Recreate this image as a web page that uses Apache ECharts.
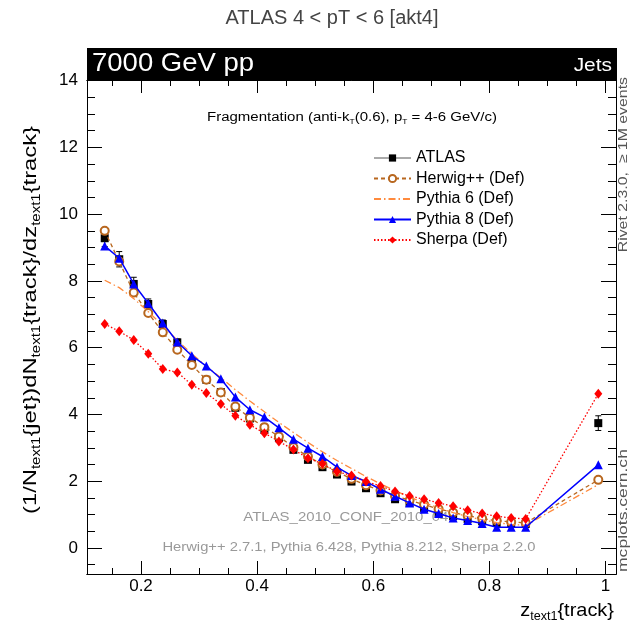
<!DOCTYPE html>
<html>
<head>
<meta charset="utf-8">
<script src="https://cdn.jsdelivr.net/npm/echarts@6/dist/echarts.min.js"></script>
<style>
  html, body { margin: 0; padding: 0; background: #fff; }
  #main { width: 631px; height: 626px; }
</style>
</head>
<body>
<div id="main"></div>
<script>
// bin centres in z
var zBins = [0.1375, 0.1625, 0.1875, 0.2125, 0.2375, 0.2625, 0.2875, 0.3125, 0.3375, 0.3625,
  0.3875, 0.4125, 0.4375, 0.4625, 0.4875, 0.5125, 0.5375, 0.5625, 0.5875, 0.6125,
  0.6375, 0.6625, 0.6875, 0.7125, 0.7375, 0.7625, 0.7875, 0.8125, 0.8375, 0.8625, 0.9875];

var atlas = [9.28, 8.65, 7.91, 7.31, 6.71, 6.16, 5.54, 5.04, 4.67, 4.20,
  3.88, 3.54, 3.29, 2.94, 2.64, 2.42, 2.20, 1.99, 1.79, 1.64,
  1.46, 1.35, 1.20, 1.05, 0.95, 0.87, 0.80, 0.75, 0.72, 0.72, 3.74];
var atlasErr = [0.25, 0.23, 0.20, 0.15, 0.12, 0.10, 0.10, 0.08, 0.08, 0.07,
  0.07, 0.06, 0.06, 0.05, 0.05, 0.05, 0.05, 0.04, 0.04, 0.04,
  0.04, 0.04, 0.04, 0.04, 0.04, 0.04, 0.04, 0.04, 0.04, 0.04, 0.22];
var herwig = [9.50, 8.58, 7.65, 7.04, 6.46, 5.94, 5.48, 5.04, 4.66, 4.24,
  3.90, 3.62, 3.34, 3.02, 2.74, 2.50, 2.28, 2.07, 1.88, 1.72,
  1.56, 1.43, 1.30, 1.17, 1.06, 0.97, 0.88, 0.82, 0.78, 0.75, 2.04];
var pythia6 = [8.02, 7.80, 7.47, 7.08, 6.66, 6.22, 5.82, 5.44, 5.10, 4.74,
  4.40, 4.08, 3.76, 3.46, 3.16, 2.88, 2.62, 2.38, 2.14, 1.92,
  1.72, 1.52, 1.36, 1.20, 1.06, 0.94, 0.84, 0.76, 0.70, 0.68, 1.90];
var pythia8 = [9.05, 8.68, 7.91, 7.33, 6.74, 6.17, 5.76, 5.45, 5.07, 4.52,
  4.14, 3.92, 3.60, 3.26, 2.99, 2.74, 2.42, 2.17, 1.99, 1.76,
  1.55, 1.35, 1.16, 1.03, 0.90, 0.82, 0.73, 0.62, 0.62, 0.62, 2.49];
var sherpa = [6.71, 6.49, 6.23, 5.82, 5.36, 5.26, 4.89, 4.64, 4.31, 3.96,
  3.69, 3.44, 3.19, 2.95, 2.69, 2.52, 2.29, 2.17, 1.99, 1.86,
  1.69, 1.56, 1.46, 1.35, 1.25, 1.13, 1.03, 0.95, 0.90, 0.87, 4.62];

var xMajor = [0.2, 0.4, 0.6, 0.8, 1.0];
var xMinor = [0.15, 0.25, 0.3, 0.35, 0.45, 0.5, 0.55, 0.65, 0.7, 0.75, 0.85, 0.9, 0.95];
var yMajor = [0, 2, 4, 6, 8, 10, 12, 14];
var yMinor = [-0.5, 0.5, 1, 1.5, 2.5, 3, 3.5, 4.5, 5, 5.5, 6.5, 7, 7.5, 8.5, 9, 9.5,
  10.5, 11, 11.5, 12.5, 13, 13.5];

var X_MIN = 0.107, X_MAX = 1.018, Y_MIN = -0.78, Y_MAX = 14.02;
var FONT = "Liberation Sans, Arial, sans-serif";

function pairs(ys) {
  return ys.map(function (v, i) { return [zBins[i], v]; });
}

function makeX(pos, ticks, len, withLabels) {
  return {
    type: "value", position: pos, min: X_MIN, max: X_MAX,
    axisLine: { show: true, onZero: false, lineStyle: { color: "#000", width: 1 } },
    axisTick: { show: true, inside: true, length: len, customValues: ticks,
      lineStyle: { color: "#000", width: 1 } },
    axisLabel: withLabels ? {
      show: true, customValues: ticks, margin: 4, color: "#000",
      fontSize: 17, fontFamily: FONT,
      formatter: function (v) { return v === 1 ? "1" : v.toFixed(1); }
    } : { show: false },
    splitLine: { show: false }
  };
}

function makeY(pos, ticks, len, withLabels) {
  return {
    type: "value", position: pos, min: Y_MIN, max: Y_MAX,
    axisLine: { show: true, onZero: false, lineStyle: { color: "#000", width: 1 } },
    axisTick: { show: true, inside: true, length: len, customValues: ticks,
      lineStyle: { color: "#000", width: 1 } },
    axisLabel: withLabels ? {
      show: true, customValues: ticks, margin: 9, color: "#000",
      fontSize: 17, fontFamily: FONT
    } : { show: false },
    splitLine: { show: false }
  };
}

var subStyle = function (size) {
  return { s: { fontSize: size, fontFamily: FONT, lineHeight: size + 1, verticalAlign: "bottom", fill: "#000" } };
};

var chart = echarts.init(document.getElementById("main"), null, { renderer: "canvas" });

var option = {
  backgroundColor: "#fff",
  animation: false,
  grid: { left: 87, right: 15, top: 80, bottom: 52, containLabel: false },
  xAxis: [
    makeX("bottom", xMajor, 13, true),
    makeX("bottom", xMinor, 6, false),
    makeX("top", xMajor, 13, false),
    makeX("top", xMinor, 6, false)
  ],
  yAxis: [
    makeY("left", yMajor, 15, true),
    makeY("left", yMinor, 8, false),
    makeY("right", yMajor, 15, false),
    makeY("right", yMinor, 8, false)
  ],
  legend: {
    orient: "vertical", left: 368, top: 145,
    itemWidth: 37, itemHeight: 9, itemGap: 4.5,
    textStyle: { fontSize: 16, fontFamily: FONT, color: "#000", lineHeight: 15 },
    data: [
      { name: "ATLAS", lineStyle: { width: 1, color: "#555", opacity: 1, type: "solid" } },
      "Herwig++ (Def)",
      { name: "Pythia 6 (Def)", itemStyle: { opacity: 0 } },
      "Pythia 8 (Def)", "Sherpa (Def)"
    ]
  },
  series: [
    {
      name: "ATLAS", type: "line", data: pairs(atlas), z: 3,
      symbol: "rect", symbolSize: 8, color: "#000",
      lineStyle: { width: 0, opacity: 0 }, itemStyle: { color: "#000" }
    },
    {
      name: "ATLAS", type: "custom", z: 3,
      data: atlas.map(function (v, i) { return [zBins[i], v, atlasErr[i]]; }),
      renderItem: function (params, api) {
        var x = api.value(0), y = api.value(1), e = api.value(2);
        var top = api.coord([x, y + e]), bot = api.coord([x, y - e]);
        var st = { stroke: "#000", lineWidth: 1 };
        return {
          type: "group", children: [
            { type: "line", shape: { x1: top[0], y1: top[1], x2: bot[0], y2: bot[1] }, style: st },
            { type: "line", shape: { x1: top[0] - 3, y1: top[1], x2: top[0] + 3, y2: top[1] }, style: st },
            { type: "line", shape: { x1: bot[0] - 3, y1: bot[1], x2: bot[0] + 3, y2: bot[1] }, style: st }
          ]
        };
      }
    },
    {
      name: "Herwig++ (Def)", type: "line", data: pairs(herwig), z: 4,
      symbol: "emptyCircle", symbolSize: 8, color: "#b8671f",
      itemStyle: { color: "#b8671f", borderWidth: 1.6 },
      lineStyle: { color: "#b8671f", width: 1.3, type: [4, 3] }
    },
    {
      name: "Pythia 6 (Def)", type: "line", data: pairs(pythia6), z: 5,
      symbol: "none", color: "#ff8a3d",
      lineStyle: { color: "#ff8a3d", width: 1.3, type: [7, 3, 1.5, 3] }
    },
    {
      name: "Pythia 8 (Def)", type: "line", data: pairs(pythia8), z: 6,
      symbol: "triangle", symbolSize: 9, color: "#0000ff",
      itemStyle: { color: "#0000ff" },
      lineStyle: { color: "#0000ff", width: 1.5, type: "solid" }
    },
    {
      name: "Sherpa (Def)", type: "line", data: pairs(sherpa), z: 7,
      symbol: "diamond", symbolSize: [8, 10], color: "#ff0000",
      itemStyle: { color: "#ff0000" },
      lineStyle: { color: "#ff0000", width: 1.3, type: [1.5, 2] }
    }
  ],
  graphic: [
    { type: "text", x: 332, y: 18, z: 10,
      style: { text: "ATLAS 4 < pT < 6 [akt4]", fill: "#444", fontSize: 20, fontFamily: FONT,
        align: "center", verticalAlign: "middle" } },
    { type: "rect", shape: { x: 87, y: 48, width: 530, height: 32 }, z: 10,
      style: { fill: "#000" } },
    { type: "text", x: 92, y: 64, z: 11, scaleX: 1.1,
      style: { text: "7000 GeV pp", fill: "#fff", fontSize: 25, fontFamily: FONT,
        align: "left", verticalAlign: "middle" } },
    { type: "text", x: 612, y: 66, z: 11, scaleX: 1.1,
      style: { text: "Jets", fill: "#fff", fontSize: 19, fontFamily: FONT,
        align: "right", verticalAlign: "middle" } },
    { type: "text", x: 352, y: 118, z: 10, scaleX: 1.2,
      style: { text: "Fragmentation (anti-k{s|T}(0.6), p{s|T} = 4-6 GeV/c)", fill: "#000",
        fontSize: 12.5, fontFamily: FONT, lineHeight: 16, align: "center", verticalAlign: "middle",
        rich: subStyle(7) } },
    { type: "text", x: 350, y: 517, z: 0, scaleX: 1.15,
      style: { text: "ATLAS_2010_CONF_2010_049", fill: "#999", fontSize: 13, fontFamily: FONT,
        align: "center", verticalAlign: "middle" } },
    { type: "text", x: 349, y: 548, z: 0, scaleX: 1.18,
      style: { text: "Herwig++ 2.7.1, Pythia 6.428, Pythia 8.212, Sherpa 2.2.0", fill: "#999",
        fontSize: 12.5, fontFamily: FONT, align: "center", verticalAlign: "middle" } },
    { type: "text", x: 623, y: 77, rotation: Math.PI / 2, z: 10, scaleX: 1.22,
      style: { text: "Rivet 2.3.0,  \u2265 1M events", fill: "#555", fontSize: 13, fontFamily: FONT,
        align: "right", verticalAlign: "middle" } },
    { type: "text", x: 623, y: 572, rotation: Math.PI / 2, z: 10, scaleX: 1.3,
      style: { text: "mcplots.cern.ch", fill: "#555", fontSize: 13.5, fontFamily: FONT,
        align: "left", verticalAlign: "middle" } },
    { type: "text", x: 31, y: 126, rotation: Math.PI / 2, z: 10, scaleX: 1.25,
      style: { text: "(1/N{s|text1}{jet})dN{s|text1}{track}/dz{s|text1}{track}", fill: "#000",
        fontSize: 19, fontFamily: FONT, lineHeight: 24, align: "right", verticalAlign: "middle",
        rich: subStyle(12) } },
    { type: "text", x: 614, y: 611, z: 10, scaleX: 1.05,
      style: { text: "z{s|text1}{track}", fill: "#000", fontSize: 19, fontFamily: FONT,
        lineHeight: 24, align: "right", verticalAlign: "middle",
        rich: subStyle(12) } }
  ]
};

chart.setOption(option);
window.onresize = chart.resize;
</script>
</body>
</html>
